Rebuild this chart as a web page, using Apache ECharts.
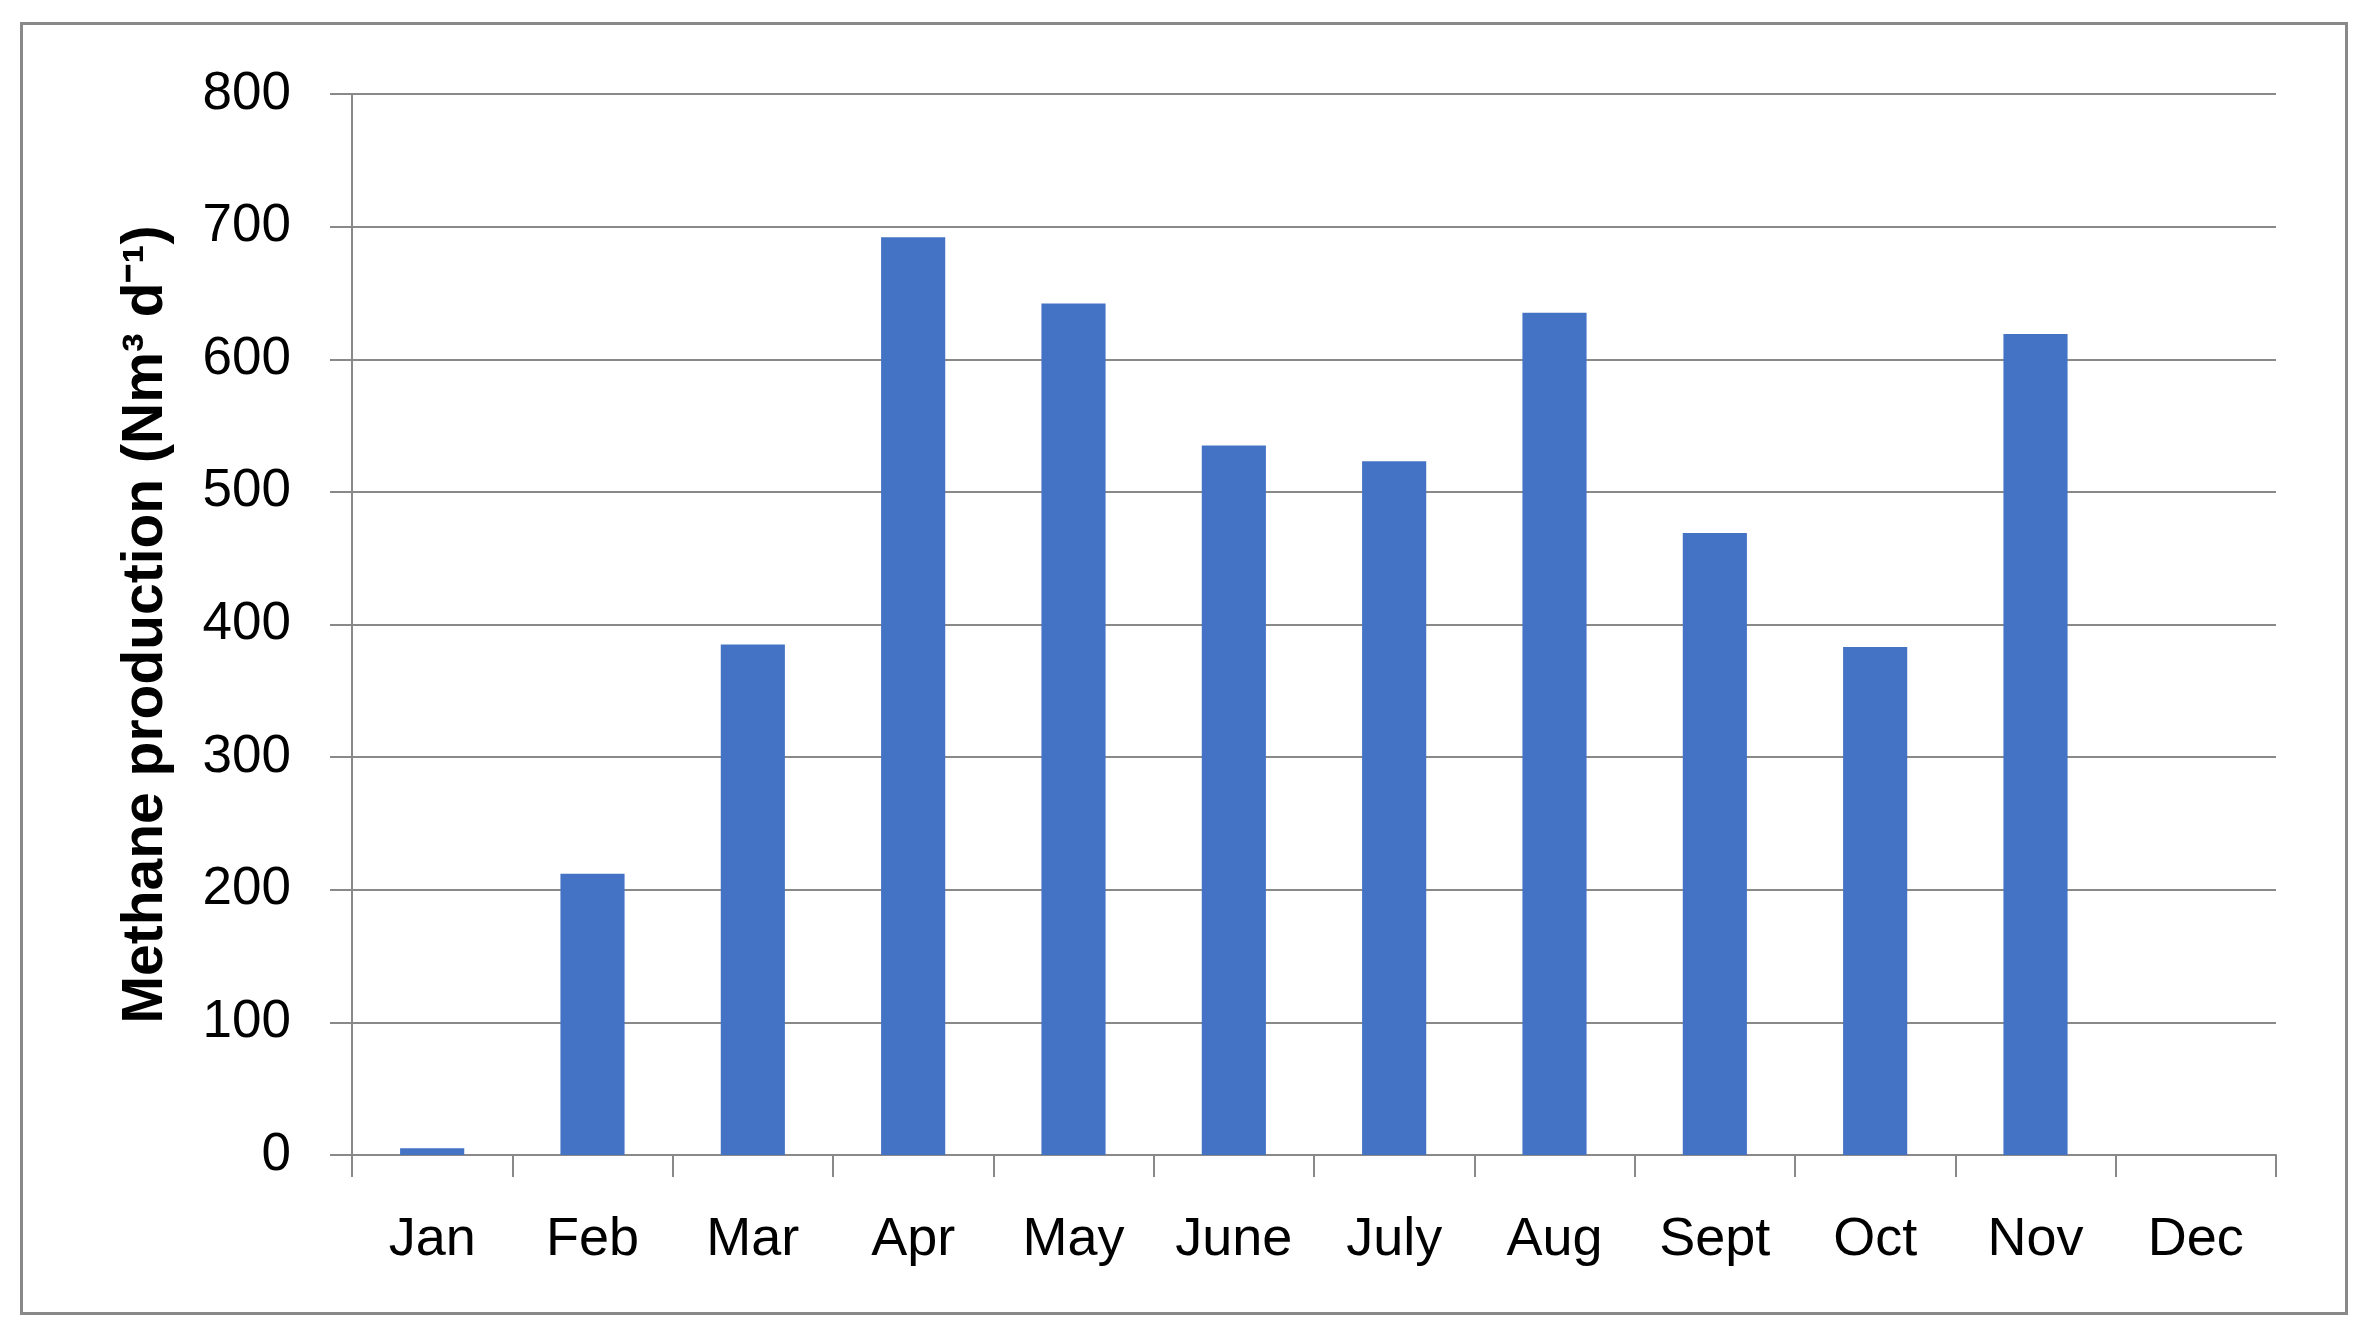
<!DOCTYPE html>
<html>
<head>
<meta charset="utf-8">
<script src="https://cdn.jsdelivr.net/npm/echarts@6/dist/echarts.min.js"></script>
<style>
  html, body { margin: 0; padding: 0; background: #fff; }
  #chart { width: 2379px; height: 1336px; }
</style>
</head>
<body>
<div id="chart"></div>
<script>
// monthly methane production
const months = ['Jan', 'Feb', 'Mar', 'Apr', 'May', 'June', 'July', 'Aug', 'Sept', 'Oct', 'Nov', 'Dec']
const methane = [5, 212, 385, 692, 642, 535, 523, 635, 469, 383, 619, '-']
const yMin = 0
const yMax = 800
const yStep = 100

const gray = '#898989'
const font = 'Liberation Sans, Arial, sans-serif'

const chart = echarts.init(document.getElementById('chart'))

chart.setOption({
  animation: false,
  backgroundColor: '#fff',
  graphic: [
    {
      type: 'rect',
      shape: { x: 21.5, y: 23.5, width: 2325, height: 1290 },
      style: { fill: 'none', stroke: gray, lineWidth: 3 }
    }
  ],
  grid: {
    left: 352,
    right: 103,
    top: 94,
    bottom: 181
  },
  xAxis: {
    type: 'category',
    data: months,
    axisLine: {
      lineStyle: { color: gray, width: 2 }
    },
    axisTick: {
      show: true,
      length: 22,
      lineStyle: { color: gray, width: 2 }
    },
    axisLabel: {
      margin: 58,
      color: '#000',
      fontFamily: font,
      fontSize: 54
    }
  },
  yAxis: {
    type: 'value',
    min: yMin,
    max: yMax,
    interval: yStep,
    name: 'Methane production (Nm³ d⁻¹)',
    nameLocation: 'middle',
    nameGap: 177,
    nameTextStyle: {
      color: '#000',
      fontFamily: font,
      fontWeight: 'bold',
      fontSize: 57
    },
    axisLine: {
      show: true,
      lineStyle: { color: gray, width: 2 }
    },
    axisTick: {
      show: true,
      length: 22,
      lineStyle: { color: gray, width: 2 }
    },
    axisLabel: {
      margin: 61,
      color: '#000',
      fontFamily: font,
      fontSize: 53
    },
    splitLine: {
      lineStyle: { color: gray, width: 2 }
    }
  },
  series: [
    {
      name: 'Methane production',
      type: 'bar',
      data: methane,
      barWidth: '40%',
      itemStyle: { color: '#4472C4' }
    }
  ]
})
</script>
</body>
</html>
